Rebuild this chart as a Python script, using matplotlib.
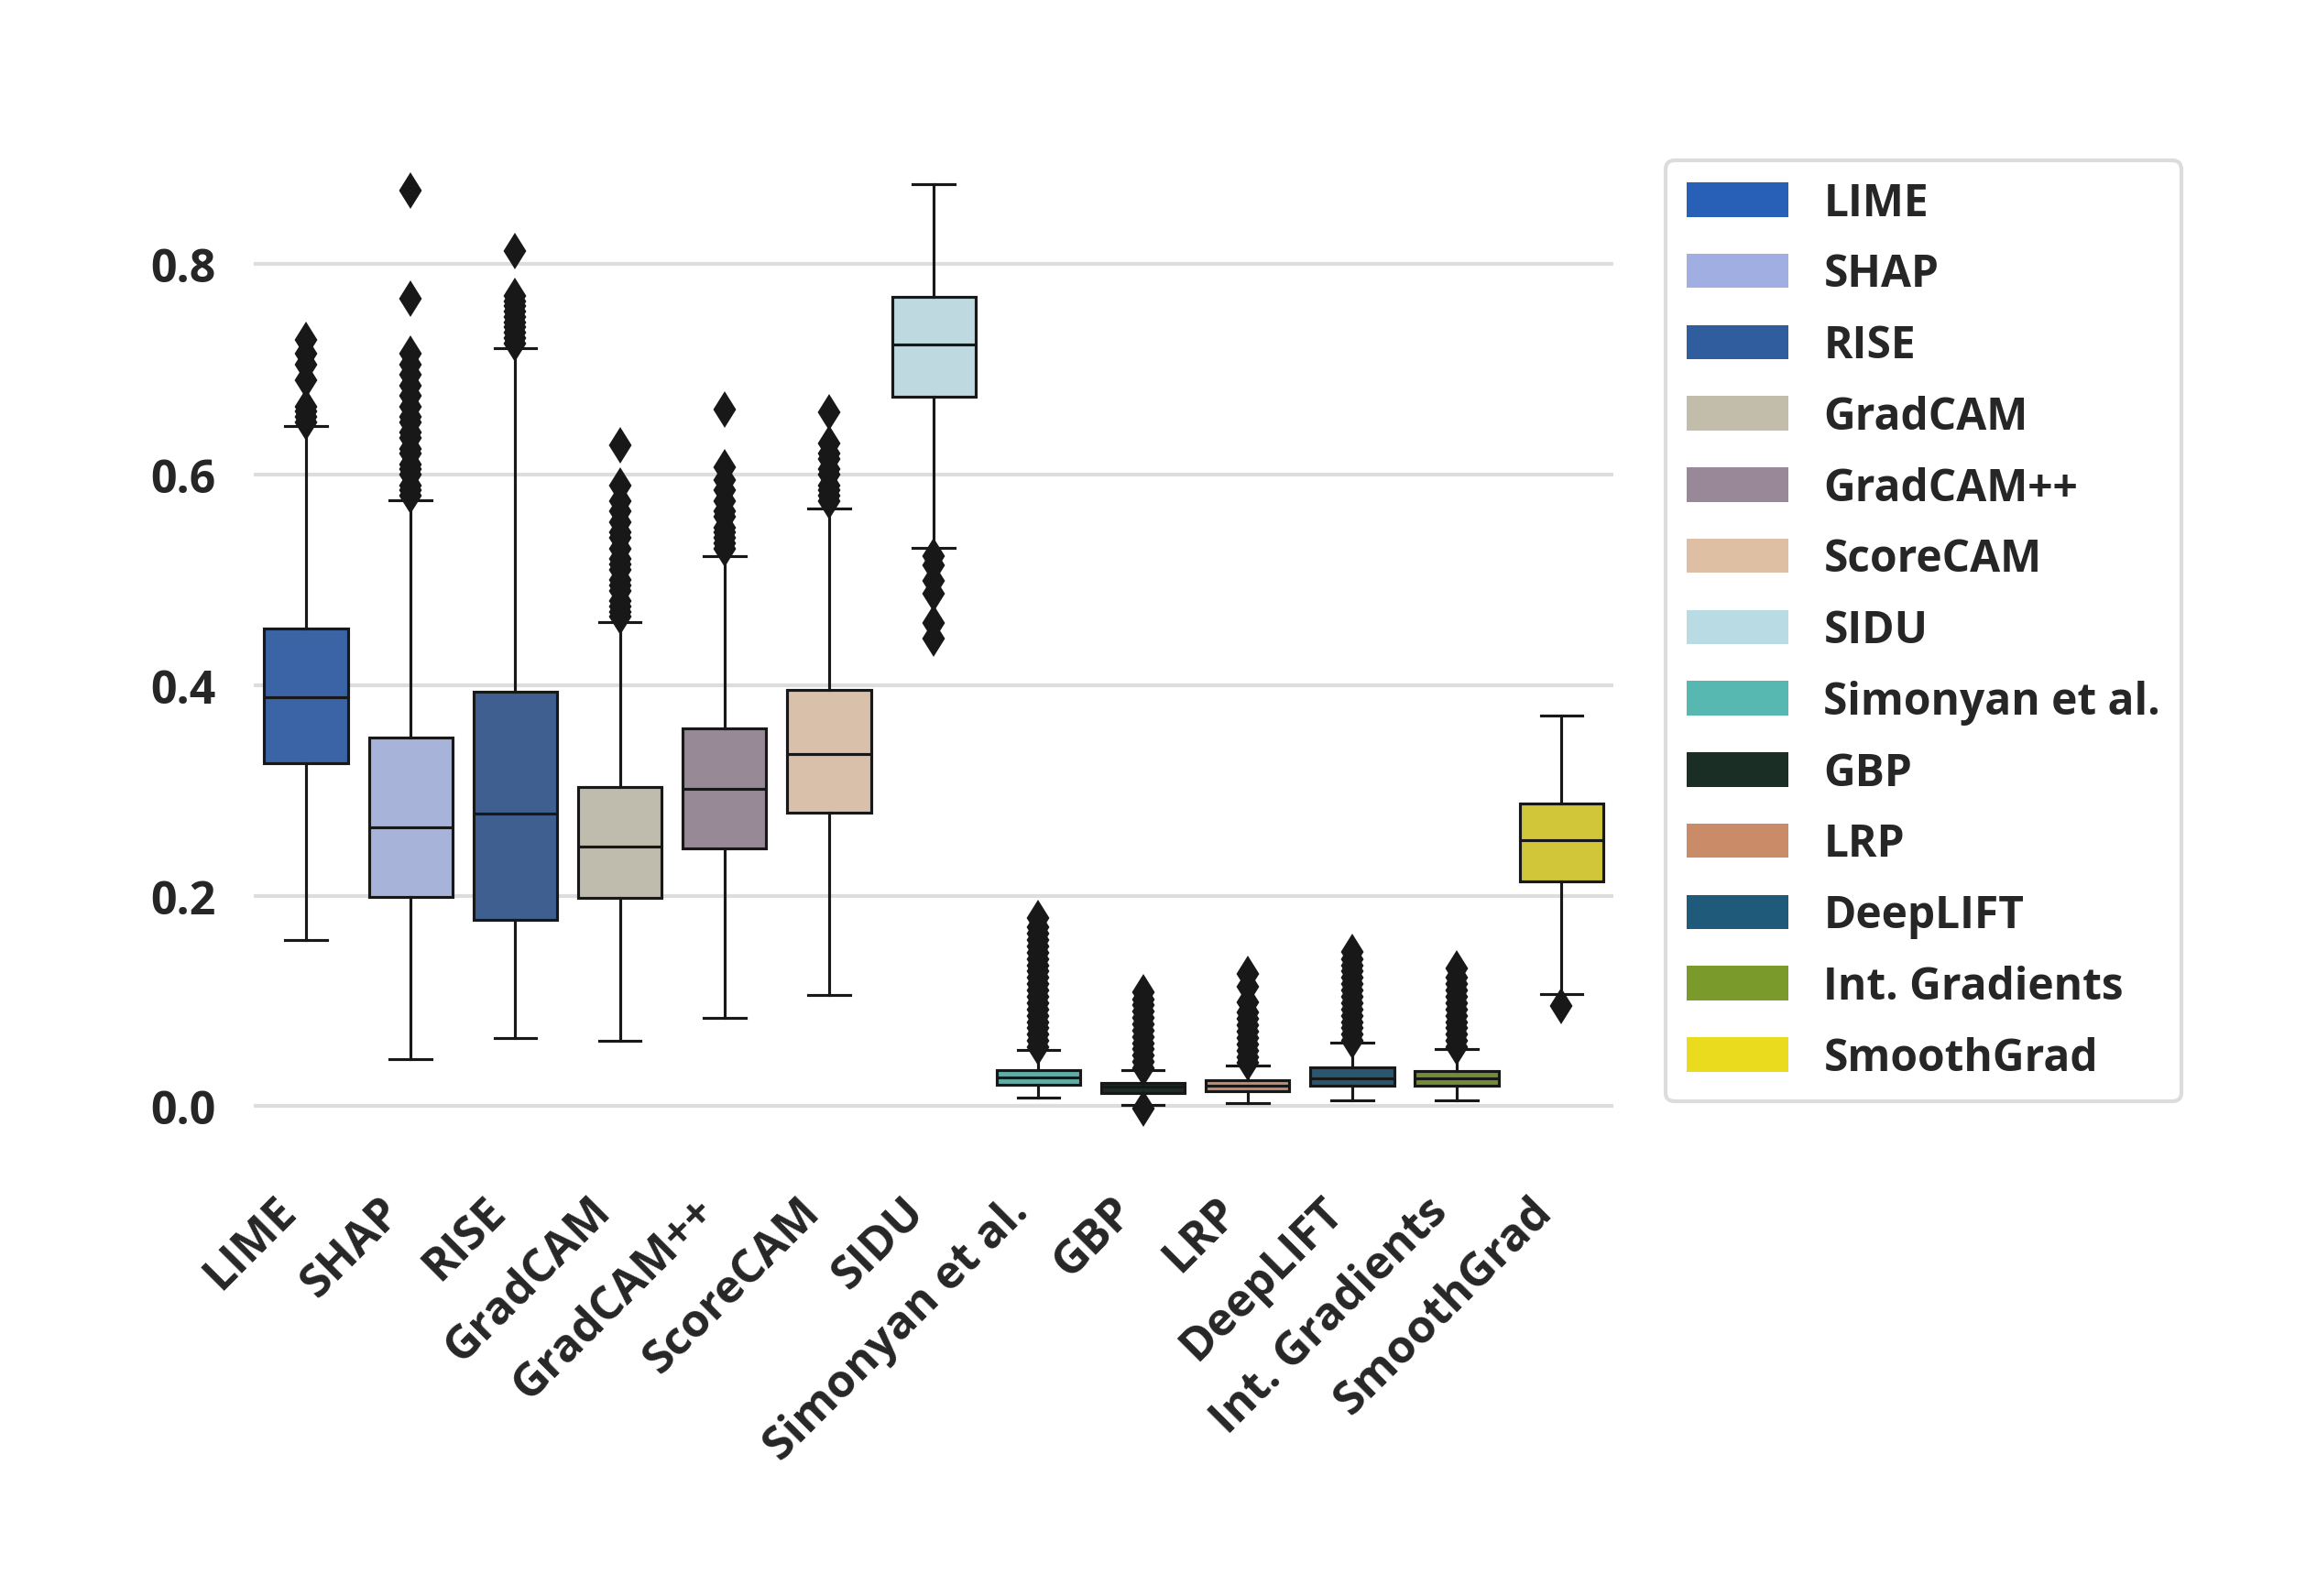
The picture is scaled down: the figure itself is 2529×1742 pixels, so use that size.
import colorsys
import matplotlib
matplotlib.use('Agg')
import matplotlib.pyplot as plt
import matplotlib.colors as mcolors
from matplotlib.patches import Patch

plt.rcParams['font.family'] = ['Open Sans', 'DejaVu Sans']
plt.rcParams['font.weight'] = 'bold'

# data
methods = ['LIME', 'SHAP', 'RISE', 'GradCAM', 'GradCAM++', 'ScoreCAM', 'SIDU',
           'Simonyan et al.', 'GBP', 'LRP', 'DeepLIFT', 'Int. Gradients', 'SmoothGrad']
palette = ['#2860B8', '#A0AEE2', '#305D9E', '#C2BDAA', '#998898', '#DFBFA3', '#B9DCE4',
           '#56B8B0', '#1B2E26', '#C98B68', '#1F5A7A', '#7A9A2C', '#EBDB1F']

medians = [0.389, 0.265, 0.278, 0.247, 0.302, 0.335, 0.724, 0.0275, 0.0183, 0.0197, 0.0267, 0.0264, 0.253]
q1 = [0.326, 0.199, 0.177, 0.198, 0.245, 0.279, 0.674, 0.0203, 0.0125, 0.0145, 0.0197, 0.0197, 0.214]
q3 = [0.454, 0.350, 0.394, 0.303, 0.359, 0.396, 0.769, 0.0348, 0.0226, 0.0252, 0.0371, 0.0339, 0.288]
whis_lo = [0.158, 0.045, 0.065, 0.062, 0.084, 0.106, 0.531, 0.0081, 0.0014, 0.0029, 0.0055, 0.0055, 0.107]
whis_hi = [0.646, 0.576, 0.720, 0.460, 0.523, 0.568, 0.876, 0.0533, 0.0342, 0.0386, 0.0603, 0.0542, 0.371]

fliers = [
    [0.650, 0.655, 0.660, 0.665, 0.690, 0.705, 0.715, 0.728],
    [0.580, 0.585, 0.590, 0.600, 0.605, 0.610, 0.620, 0.625, 0.635, 0.640, 0.650, 0.655,
     0.665, 0.675, 0.685, 0.695, 0.705, 0.715, 0.767, 0.870],
    [0.725, 0.730, 0.735, 0.740, 0.745, 0.750, 0.755, 0.760, 0.765, 0.770, 0.813],
    [0.465, 0.470, 0.475, 0.480, 0.490, 0.495, 0.500, 0.510, 0.515, 0.520, 0.530, 0.540,
     0.545, 0.555, 0.565, 0.575, 0.590, 0.628],
    [0.530, 0.535, 0.540, 0.545, 0.550, 0.560, 0.565, 0.575, 0.585, 0.595, 0.607, 0.662],
    [0.575, 0.580, 0.585, 0.590, 0.600, 0.605, 0.615, 0.620, 0.630, 0.659],
    [0.523, 0.514, 0.499, 0.487, 0.459, 0.444],
    [0.056, 0.062, 0.068, 0.074, 0.080, 0.086, 0.092, 0.098, 0.104, 0.110, 0.116, 0.122,
     0.128, 0.134, 0.140, 0.146, 0.152, 0.158, 0.164, 0.170, 0.179],
    [-0.002, 0.036, 0.042, 0.048, 0.054, 0.060, 0.066, 0.072, 0.078, 0.084, 0.090, 0.096,
     0.101, 0.108],
    [0.041, 0.047, 0.053, 0.059, 0.065, 0.071, 0.077, 0.083, 0.089, 0.099, 0.114, 0.1255],
    [0.062, 0.068, 0.074, 0.080, 0.086, 0.092, 0.098, 0.104, 0.110, 0.116, 0.122, 0.128,
     0.134, 0.140, 0.147],
    [0.056, 0.062, 0.068, 0.074, 0.080, 0.086, 0.092, 0.098, 0.104, 0.110, 0.116, 0.122,
     0.131],
    [0.095],
]

line_col = '#181818'


def desaturate(c, prop=0.75):
    r, g, b = mcolors.to_rgb(c)
    h, l, s = colorsys.rgb_to_hls(r, g, b)
    return colorsys.hls_to_rgb(h, l, s * prop)


stats = []
for i, m in enumerate(methods):
    stats.append(dict(label=m, med=medians[i], q1=q1[i], q3=q3[i],
                      whislo=whis_lo[i], whishi=whis_hi[i], fliers=fliers[i]))

fig = plt.figure(figsize=(2529 / 300, 1743 / 300), dpi=300)
ax = fig.add_axes([0.1095, 0.277, 0.587, 0.636])

lw = 0.75
bp = ax.bxp(stats, positions=range(len(methods)), widths=0.8, patch_artist=True,
            boxprops=dict(edgecolor=line_col, linewidth=lw),
            medianprops=dict(color=line_col, linewidth=lw),
            whiskerprops=dict(color=line_col, linewidth=lw),
            capprops=dict(color=line_col, linewidth=lw),
            flierprops=dict(marker='d', markersize=5.5, markerfacecolor=line_col,
                            markeredgecolor=line_col, linestyle='none'))
for patch, c in zip(bp['boxes'], palette):
    patch.set_facecolor(desaturate(c))
for cap in bp['caps']:
    x0, x1 = cap.get_xdata()
    mid = (x0 + x1) / 2
    cap.set_xdata([mid - 0.2, mid + 0.2])

ax.set_xlim(-0.5, len(methods) - 0.5)
ax.set_ylim(-0.045, 0.92)
ax.set_yticks([0.0, 0.2, 0.4, 0.6, 0.8])
ax.set_yticklabels(['0.0', '0.2', '0.4', '0.6', '0.8'], fontweight='bold')
ax.set_xticks(range(len(methods)))
ax.set_xticklabels(methods, rotation=45, ha='right', fontweight='bold')
ax.tick_params(axis='both', length=0, labelsize=12, labelcolor='#262626')
ax.tick_params(axis='y', pad=10)
ax.tick_params(axis='x', pad=9)
ax.yaxis.grid(True, color='#dddde0', linewidth=1.0)
ax.set_axisbelow(True)
for s in ax.spines.values():
    s.set_visible(False)

handles = [Patch(facecolor=c, edgecolor='none') for c in palette]
leg = fig.legend(handles, methods, loc='upper left', bbox_to_anchor=(0.719, 0.899),
                 borderaxespad=0, prop=dict(size=11.5, weight='bold'),
                 handlelength=2.32, handleheight=0.83, handletextpad=0.8,
                 labelspacing=0.6, borderpad=0.47, frameon=True, fancybox=True)
leg.get_frame().set_edgecolor('#d4d4d4')
leg.get_frame().set_linewidth(1.0)
for t in leg.get_texts():
    t.set_color('#262626')

fig.savefig('out.png', dpi=300, facecolor='white')
